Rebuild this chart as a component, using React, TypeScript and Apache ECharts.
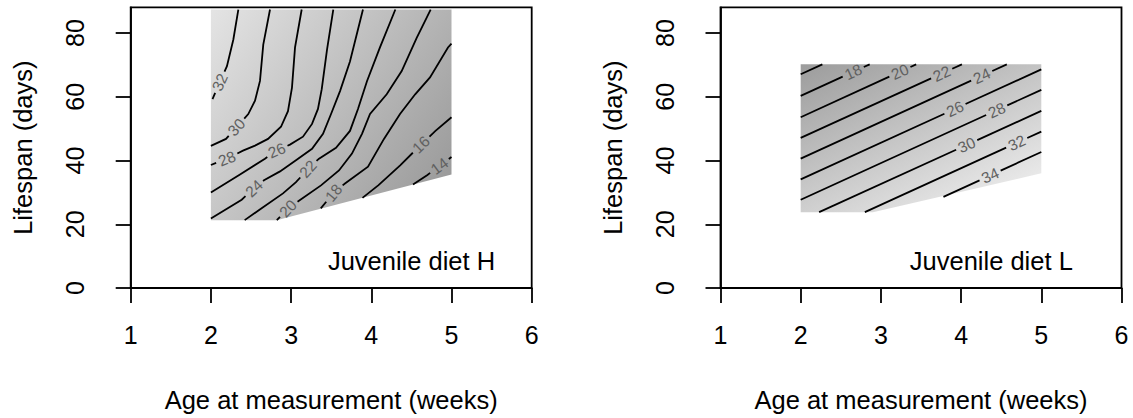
import React, { useEffect, useRef } from "react";
import * as echarts from "echarts";

// ---------- shared axis data ----------
const X_TICKS = [1, 2, 3, 4, 5, 6];
const Y_TICKS = [0, 20, 40, 60, 80];
const X_MIN = 1;
const X_MAX = 6;
const Y_MIN = 0;
const Y_MAX = 88.1;
const X_TITLE = "Age at measurement (weeks)";
const Y_TITLE = "Lifespan (days)";

// ---------- panel H (juvenile diet H) ----------
const H_NAME = "Juvenile diet H";
const H_DOMAIN = [[2, 21.3], [2.82, 21.3], [5, 35.6], [5, 87.4], [2, 87.4]];
const H_LEVELS = [32, 30, 28, 26, 24, 22, 20, 18, 16, 14];
const H_LINE_32 = [[2.342, 87.4], [2.28, 78], [2.2, 69.6], [2.11, 64.6], [2.02, 59.3]];
const H_LINE_30 = [[2.737, 87.4], [2.653, 76.4], [2.612, 65.0], [2.55, 58.8], [2.466, 54.6], [2.388, 52.4], [2.318, 50.5], [2.188, 46.8], [2.0, 44.6]];
const H_LINE_28 = [[3.132, 87.4], [3.049, 75.5], [3.011, 62.9], [2.961, 55.5], [2.874, 50.6], [2.712, 46.8], [2.55, 44.7], [2.4, 43.1], [2.226, 40.9], [2.0, 38.6]];
const H_LINE_26 = [[3.526, 87.4], [3.448, 74.8], [3.382, 62.4], [3.335, 56.2], [3.261, 51.5], [3.148, 47.5], [2.986, 45.0], [2.822, 43.2], [2.674, 40.6], [2.363, 35.6], [2.0, 30.0]];
const H_LINE_24 = [[2.0, 21.8], [2.384, 27.7], [2.537, 31.3], [2.662, 33.8], [2.862, 36.6], [3.074, 40.3], [3.261, 43.7], [3.398, 48.4], [3.498, 54.6], [3.61, 61.8], [3.734, 71.1], [3.896, 87.4]];
const H_LINE_22 = [[2.421, 21.3], [2.637, 25.1], [2.899, 29.7], [3.061, 33.2], [3.211, 37.4], [3.348, 40.6], [3.56, 44.0], [3.734, 49.3], [3.834, 56.2], [3.946, 64.9], [4.108, 75.5], [4.3, 87.4]];
const H_LINE_20 = [[2.822, 21.3], [2.961, 25.0], [3.111, 27.6], [3.373, 32.2], [3.597, 36.9], [3.759, 42.2], [3.884, 48.4], [3.984, 54.6], [4.192, 60.8], [4.379, 68.1], [4.566, 78.5], [4.74, 87.4]];
const H_LINE_18 = [[3.37, 25.0], [3.53, 29.9], [3.672, 32.8], [3.959, 38.1], [4.158, 46.8], [4.358, 54.6], [4.547, 60.8], [4.732, 66.1], [4.956, 75.5], [5.0, 76.7]];
const H_LINE_16 = [[3.89, 28.3], [4.09, 32.3], [4.36, 38.5], [4.62, 45.0], [4.8, 49.3], [5.0, 53.6]];
const H_LINE_14 = [[4.52, 32.5], [4.7, 35.5], [4.85, 38.3], [5.0, 41.1]];
const H_LINES = [H_LINE_32, H_LINE_30, H_LINE_28, H_LINE_26, H_LINE_24, H_LINE_22, H_LINE_20, H_LINE_18, H_LINE_16, H_LINE_14];
const H_LABEL_AT = [[2.11, 64.6], [2.318, 50.5], [2.2, 40.6], [2.822, 43.2], [2.537, 31.3], [3.211, 37.4], [2.961, 25.0], [3.53, 29.9], [4.61, 45.3], [4.85, 38.3]];

// ---------- panel L (juvenile diet L) ----------
const L_NAME = "Juvenile diet L";
const L_DOMAIN = [[2, 23.8], [2.9, 23.8], [5, 36.0], [5, 70.2], [2, 70.2]];
const L_LEVELS = [16, 18, 20, 22, 24, 26, 28, 30, 32, 34];
const L_LINES = [
  [[2, 67.1], [2.27, 70.2]],
  [[2, 60.3], [2.86, 70.2]],
  [[2, 53.6], [3.44, 70.2]],
  [[2, 47.1], [4.01, 70.2]],
  [[2, 40.6], [4.57, 70.2]],
  [[2, 34.1], [5, 68.6]],
  [[2, 27.7], [5, 62.2]],
  [[2.23, 23.8], [5, 55.6]],
  [[2.8, 23.8], [5, 49.1]],
  [[3.78, 28.6], [5, 42.7]],
];
const L_LABEL_AT = [null, [2.656, 67.8], [3.238, 67.8], [3.758, 67.3], [4.257, 66.6], [3.924, 56.2], [4.444, 55.8], [4.07, 44.9], [4.693, 45.6], [4.36, 35.4]];

const FONT = '"Liberation Sans", Arial, Helvetica, sans-serif';

type P = number[];

function pointAt(pts: P[], cum: number[], s: number): P {
  for (let k = 0; k < pts.length - 1; k++) {
    if (s <= cum[k + 1] || k === pts.length - 2) {
      const len = cum[k + 1] - cum[k];
      const t = len > 0 ? Math.max(0, Math.min(1, (s - cum[k]) / len)) : 0;
      return [pts[k][0] + t * (pts[k + 1][0] - pts[k][0]), pts[k][1] + t * (pts[k + 1][1] - pts[k][1])];
    }
  }
  return pts[pts.length - 1];
}

function subPath(pts: P[], cum: number[], s0: number, s1: number): P[] | null {
  if (s1 - s0 < 0.5) return null;
  const out: P[] = [pointAt(pts, cum, s0)];
  for (let k = 0; k < pts.length; k++) {
    if (cum[k] > s0 && cum[k] < s1) out.push(pts[k]);
  }
  out.push(pointAt(pts, cum, s1));
  return out;
}

function polyEl(points: P[]) {
  return {
    type: "polyline",
    shape: { points },
    style: { stroke: "#000", lineWidth: 1.8, fill: null },
  };
}

function makeContourRender(lines: number[][][], levels: number[], labels: (number[] | null)[]) {
  const fs = 15.5;
  return (params: any, api: any) => {
    const i = params.dataIndex;
    const pts: P[] = lines[i].map((p) => api.coord(p));
    const cum = [0];
    for (let k = 1; k < pts.length; k++) {
      cum.push(cum[k - 1] + Math.hypot(pts[k][0] - pts[k - 1][0], pts[k][1] - pts[k - 1][1]));
    }
    const total = cum[cum.length - 1];
    const lab = labels[i];
    if (!lab) return { type: "group", children: [polyEl(pts)] };
    const lp = api.coord(lab);
    let best = { d: Infinity, s: 0, ang: 0, x: 0, y: 0 };
    for (let k = 0; k < pts.length - 1; k++) {
      const a = pts[k];
      const b = pts[k + 1];
      const dx = b[0] - a[0];
      const dy = b[1] - a[1];
      const L2 = dx * dx + dy * dy;
      if (L2 === 0) continue;
      let t = ((lp[0] - a[0]) * dx + (lp[1] - a[1]) * dy) / L2;
      t = Math.max(0, Math.min(1, t));
      const px = a[0] + t * dx;
      const py = a[1] + t * dy;
      const d = Math.hypot(lp[0] - px, lp[1] - py);
      if (d < best.d) best = { d, s: cum[k] + t * Math.sqrt(L2), ang: Math.atan2(dy, dx), x: px, y: py };
    }
    const text = String(levels[i]);
    const half = (text.length * 0.556 * fs) / 2 + 3;
    const children: any[] = [];
    const sa = subPath(pts, cum, 0, best.s - half);
    const sb = subPath(pts, cum, best.s + half, total);
    if (sa) children.push(polyEl(sa));
    if (sb) children.push(polyEl(sb));
    let ang = best.ang;
    if (ang > Math.PI / 2) ang -= Math.PI;
    if (ang < -Math.PI / 2) ang += Math.PI;
    children.push({
      type: "text",
      x: best.x,
      y: best.y,
      rotation: -ang,
      style: {
        text,
        fill: "#606060",
        fontSize: fs,
        fontFamily: FONT,
        align: "center",
        verticalAlign: "middle",
      },
    });
    return { type: "group", children };
  };
}

function makeShadeRender(domain: number[][], gFrom: number[], gTo: number[], c0: string, c1: string) {
  return (_params: any, api: any) => {
    const points = domain.map((p) => api.coord(p));
    const a = api.coord(gFrom);
    const b = api.coord(gTo);
    return {
      type: "polygon",
      shape: { points },
      style: {
        fill: new echarts.graphic.LinearGradient(a[0], a[1], b[0], b[1], [
          { offset: 0, color: c0 },
          { offset: 1, color: c1 },
        ], true),
        stroke: null,
      },
    };
  };
}

function buildOption() {
  const grids = [
    { left: 130.7, top: 7.3, width: 401, height: 283.3 },
    { left: 720.5, top: 7.3, width: 401, height: 283.3 },
  ];
  const axisLine = { show: true, onZero: false, lineStyle: { color: "#000", width: 1.8 } };
  const axisTick = { show: true, inside: false, length: 15, lineStyle: { color: "#000", width: 1.8 } };
  const xAxes = grids.map((_, gi) => ({
    gridIndex: gi,
    type: "value",
    min: X_MIN,
    max: X_MAX,
    interval: 1,
    axisLine,
    axisTick: { ...axisTick, customValues: X_TICKS },
    axisLabel: { customValues: X_TICKS, color: "#000", fontSize: 25, fontFamily: FONT, margin: 34 },
    splitLine: { show: false },
    name: X_TITLE,
    nameLocation: "middle",
    nameGap: 99,
    nameTextStyle: { color: "#000", fontSize: 25.5, fontFamily: FONT },
  }));
  const yAxes = grids.map((_, gi) => ({
    gridIndex: gi,
    type: "value",
    min: Y_MIN,
    max: Y_MAX,
    interval: 20,
    axisLine,
    axisTick: { ...axisTick, customValues: Y_TICKS },
    axisLabel: {
      customValues: Y_TICKS,
      color: "#000",
      fontSize: 25,
      fontFamily: FONT,
      rotate: 90,
      align: "center",
      verticalAlign: "bottom",
      margin: 43,
    },
    splitLine: { show: false },
    name: Y_TITLE,
    nameLocation: "middle",
    nameRotate: 90,
    nameGap: 95,
    nameTextStyle: { color: "#000", fontSize: 25.5, fontFamily: FONT },
  }));

  const series: any[] = [
    {
      type: "custom",
      xAxisIndex: 0,
      yAxisIndex: 0,
      silent: true,
      data: [H_DOMAIN[0]],
      renderItem: makeShadeRender(H_DOMAIN, [2, 87.4], [5, 35.6], "#e4e4e4", "#9b9b9b"),
    },
    {
      type: "custom",
      xAxisIndex: 0,
      yAxisIndex: 0,
      silent: true,
      data: H_LABEL_AT,
      renderItem: makeContourRender(H_LINES, H_LEVELS, H_LABEL_AT),
    },
    {
      type: "custom",
      xAxisIndex: 1,
      yAxisIndex: 1,
      silent: true,
      data: [L_DOMAIN[0]],
      renderItem: makeShadeRender(L_DOMAIN, [2, 70.2], [3.05, 13.6], "#9c9c9c", "#e8e8e8"),
    },
    {
      type: "custom",
      xAxisIndex: 1,
      yAxisIndex: 1,
      silent: true,
      data: L_LINES.map((ln, i) => L_LABEL_AT[i] || ln[0]),
      renderItem: makeContourRender(L_LINES, L_LEVELS, L_LABEL_AT),
    },
  ];

  return {
    animation: false,
    backgroundColor: "#fff",
    grid: grids.map((g) => ({ ...g, show: true, borderColor: "#000", borderWidth: 1.8, backgroundColor: "transparent" })),
    xAxis: xAxes,
    yAxis: yAxes,
    series,
    graphic: [
      {
        type: "text",
        x: 411.5,
        y: 261,
        style: { text: H_NAME, fill: "#000", fontSize: 25.5, fontFamily: FONT, align: "center", verticalAlign: "middle" },
      },
      {
        type: "text",
        x: 991.3,
        y: 261,
        style: { text: L_NAME, fill: "#000", fontSize: 25.5, fontFamily: FONT, align: "center", verticalAlign: "middle" },
      },
    ],
  };
}

export default function App() {
  const ref = useRef<HTMLDivElement>(null);
  useEffect(() => {
    const chart = echarts.init(ref.current as HTMLDivElement, null, { renderer: "svg" });
    chart.setOption(buildOption() as any);
    return () => chart.dispose();
  }, []);
  return (
    <div
      ref={ref}
      style={{ position: "absolute", left: 0, top: 0, width: 1133, height: 418, background: "#fff" }}
    />
  );
}
